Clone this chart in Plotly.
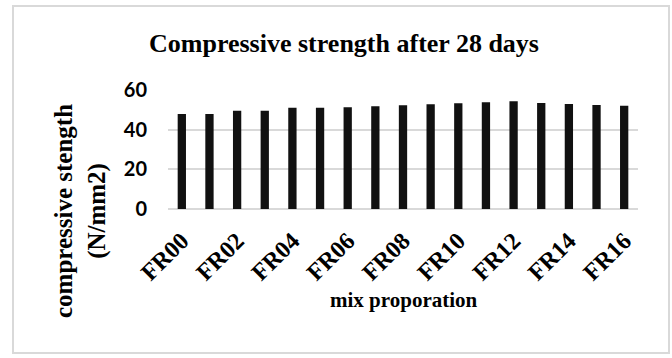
import plotly.graph_objects as go

# Mixes and their 28-day compressive strength (N/mm2)
mixes = ["FR00", "FR01", "FR02", "FR03", "FR04", "FR05", "FR06", "FR07", "FR08",
         "FR09", "FR10", "FR11", "FR12", "FR13", "FR14", "FR15", "FR16"]
strength = [47.9, 47.9, 49.6, 49.6, 51.0, 51.0, 51.3, 51.8, 52.3,
            52.8, 53.3, 53.8, 54.3, 53.5, 53.0, 52.5, 52.0]
y_ticks = [0, 20, 40, 60]
x_ticks = mixes[::2]

W, H = 672, 358
L, R, T, B = 168, 34, 90, 149
PW, PH = W - L - R, H - T - B


def px_x(px):
    return (px - L) / PW


def px_y(py):
    return (H - B - py) / PH


serif = "Liberation Serif, Times New Roman, serif"

fig = go.Figure(
    go.Bar(x=mixes, y=strength, marker=dict(color="#111111", line=dict(width=0)))
)

fig.update_layout(
    width=W, height=H,
    margin=dict(l=L, r=R, t=T, b=B),
    paper_bgcolor="white", plot_bgcolor="white",
    bargap=0.7,
    showlegend=False,
    title=dict(
        text="<b>Compressive strength after 28 days</b>",
        x=344 / W, xanchor="center",
        y=1 - 43 / H, yanchor="middle", yref="container",
        font=dict(family=serif, size=26, color="black"),
    ),
    xaxis=dict(
        type="category",
        tickmode="array", tickvals=x_ticks, ticktext=[f"<b>{t}</b>" for t in x_ticks],
        tickangle=-45,
        tickfont=dict(family=serif, size=24, color="black"),
        ticks="", showgrid=False, showline=False, zeroline=False,
        ticklabelstandoff=12,
    ),
    yaxis=dict(
        range=[0, 60],
        tickvals=y_ticks, ticktext=[f"<b>{v}</b>" for v in y_ticks],
        tickfont=dict(family="Lato, Open Sans, sans-serif", size=20, color="black"),
        showgrid=True, gridcolor="#d9d9d9", gridwidth=1.5,
        zeroline=True, zerolinecolor="#d9d9d9", zerolinewidth=1.5,
        ticks="", showline=False,
        ticklabelstandoff=20,
    ),
    shapes=[
        dict(type="rect", xref="paper", yref="paper",
             x0=px_x(13), x1=px_x(669), y0=px_y(353), y1=px_y(6),
             line=dict(color="#d9d9d9", width=2), fillcolor="rgba(0,0,0,0)",
             layer="below"),
    ],
    annotations=[
        dict(text="<b>compressive stength<br>(N/mm2)</b>",
             xref="paper", yref="paper", x=px_x(80), y=px_y(211),
             xanchor="center", yanchor="middle", textangle=-90, showarrow=False,
             font=dict(family=serif, size=25, color="black")),
        dict(text="<b>mix proporation</b>",
             xref="paper", yref="paper", x=px_x(404), y=px_y(300),
             xanchor="center", yanchor="middle", showarrow=False,
             font=dict(family=serif, size=21, color="black")),
    ],
)

fig.write_html("out.html")
